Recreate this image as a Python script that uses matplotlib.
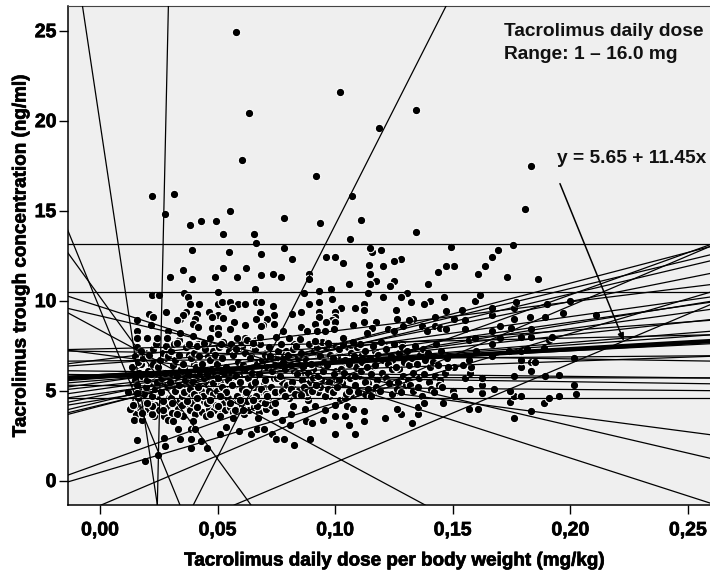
import matplotlib
matplotlib.use("Agg")
import matplotlib.pyplot as plt
import matplotlib.patheffects as pe

plt.rcParams['font.family'] = ['Liberation Sans', 'DejaVu Sans']

# isolated high values and the points above the 10 line
high_dose = [.0578, .102, .0635, .0602, .0917, .0221, .0313, .107, .0275, .0554, .0384, .0431, .0492, .0784, .0937,
             .0524, .0655, .0662, .1062, .0391, .0547, .0784, .0686, .0815, .0962, .1, .1034, .0352, .0522, .0619,
             .0299, .0392, .0488, .0582, .0686, .0736, .077, .089, .089, .106, .0658, .0981, .0932, .1342, .1185,
             .1831, .1808, .1111, .1345, .1491, .1757, .1692, .1665, .1637, .1607, .1732, .1861, .1504, .147, .1439,
             .1395, .1278, .1249, .1203, .1143, .1193, .1158, .1148, .1148, .1172, .125, .1148, .1233]
high_trough = [24.9, 21.6, 20.4, 17.8, 16.9, 15.8, 15.9, 15.8, 14.8, 15.0, 14.2, 14.4, 14.4, 14.6, 14.3,
               13.7, 13.7, 13.2, 13.4, 12.8, 12.7, 12.9, 12.6, 12.3, 12.4, 12.4, 12.1, 11.7, 11.8, 11.8,
               11.3, 11.2, 11.3, 11.3, 11.4, 11.5, 11.3, 11.5, 11.2, 10.9, 10.65, 10.65, 10.55, 20.6, 19.6,
               17.5, 15.1, 14.5, 13.8, 13.0, 13.1, 12.8, 12.4, 11.9, 11.5, 11.3, 11.2, 11.9, 11.9, 11.6,
               10.9, 12.3, 12.2, 11.9, 12.0, 12.8, 12.7, 12.9, 11.5, 11.1, 11.1, 10.9, 10.8]

# points under the band, left half
low_dose = [.0145, .0179, .0159, .0272, .0278, .0193, .0247, .034, .0386, .0386, .0431, .0454, .0333, .0397, .0386,
            .0404, .051, .0536, .059, .0642, .0666, .0698, .073, .0748, .0784, .0824, .0894, .0999, .1084, .1059,
            .0672, .0744, .0772, .0812, .0808, .0876, .0901, .0947, .0999, .1043,
            .0128, .0149, .0177, .0223, .022, .0269, .0305, .0326, .0291, .0312, .0347, .0411, .0454, .0468, .0503,
            .051, .0567, .0574, .0609, .0666, .0702, .0744, .0787, .0822, .0872, .0914, .0957, .0999, .1049, .1077,
            .0857, .0269, .0305, .037, .0411, .0468, .051, .0553, .0595, .0652, .0709, .0198, .0142, .0156, .012]
low_trough = [3.39, 3.39, 2.25, 2.38, 1.9, 1.1, 1.4, 2.29, 2.29, 1.79, 2.2, 1.79, 2.88, 3.3, 2.88,
              2.88, 2.6, 3.0, 2.73, 2.6, 2.88, 2.88, 2.6, 2.29, 2.29, 2.0, 2.29, 2.6, 2.6, 3.09,
              3.5, 3.8, 3.39, 3.7, 3.09, 3.3, 3.2, 3.39, 3.6, 3.6,
              4.0, 4.19, 3.76, 3.7, 4.13, 3.94, 3.76, 3.67, 3.39, 3.29, 4.22, 4.07, 4.31, 3.7, 4.13,
              3.57, 3.48, 3.94, 3.94, 4.13, 4.31, 4.31, 4.69, 4.13, 4.0, 4.13, 3.94, 4.19, 4.13, 4.0,
              4.78, 4.41, 4.31, 4.41, 4.59, 4.5, 4.69, 4.31, 4.5, 4.5, 4.69, 4.31, 4.22, 4.87, 4.93]

# right half of the cloud
right_dose = [.1124, .1212, .128, .1328, .1351, .1353, .1378, .1458, .1261, .1124, .1568, .1608, .176, .1831, .1888,
              .1908, .1954, .2023, .2014, .1743, .176, .179, .1743, .1676, .1623, .1623, .1623, .1572, .15, .1504,
              .1456, .1552, .176, .1893, .1954, .1831, .179, .179, .1831, .185, .2014, .1573, .1577, .1542, .1507,
              .1478, .157, .1665, .1601, .174, .179, .1814, .1888, .1665, .157, .1594, .17, .179, .1831, .1908,
              .1923, .1831, .1665, .1552, .1747, .17, .1828, .1892, .197, .2109, .176, .1665, .1552, .1504, .147,
              .1538, .1423, .1665, .176, .1769, .1899, .1998, .1594, .1616, .1464, .1403, .1378, .1322, .1304, .1278,
              .1205, .1141, .1257, .1124, .1124, .1124, .1172, .1155, .1261, .129, .1332, .1314, .1368, .1391, .1424,
              .1446, .147, .1226, .125, .1134]
right_trough = [3.3, 3.5, 3.7, 3.2, 3.7, 4.09, 4.3, 4.3, 4.0, 3.89, 4.0, 4.0, 3.5, 3.89, 4.3,
                4.6, 4.69, 4.8, 5.3, 4.39, 4.69, 4.69, 5.0, 5.1, 4.89, 5.3, 5.7, 5.1, 5.0, 4.69,
                5.2, 5.7, 5.8, 5.8, 5.89, 6.09, 6.3, 6.7, 6.6, 6.6, 6.8, 6.0, 6.3, 6.4, 6.3,
                6.3, 6.7, 6.9, 7.19, 7.19, 7.19, 7.3, 7.38, 7.6, 7.8, 7.9, 7.9, 8.0, 8.0, 7.8,
                8.0, 8.4, 8.3, 8.4, 8.5, 8.6, 9.1, 9.1, 9.3, 9.2, 9.0, 9.2, 8.9, 9.0, 9.4,
                9.5, 9.1, 9.6, 9.6, 9.94, 9.8, 10.0, 10.0, 10.3, 10.2, 10.0, 9.8, 9.9, 10.4, 10.2,
                10.2, 10.4, 9.5, 9.8, 9.45, 8.79, 8.8, 8.5, 9.0, 8.6, 9.0, 8.9, 8.6, 8.3, 8.6,
                8.5, 8.4, 8.4, 8.3, 8.2]

# upper left part of the cloud, between 7.7 and 10.6
upper_dose = [.0223, .0249, .0357, .0376, .0503, .0659, .0867, .0933, .0981, .0986, .0933, .0889, .0385, .042, .0503,
              .0517, .0553, .0588, .0616, .0662, .0685, .0736, .1025, .1084, .0857, .0815, .0933, .1, .0279, .0364,
              .0411, .0465, .0503, .0563, .068, .074, .0208, .0224, .034, .0354, .0404, .0475, .0524, .0662, .0709,
              .0933, .1, .0985, .0156, .0326, .0397, .0418, .0571, .0616, .0694, .0741, .0857, .0914, .0962, .1,
              .1077, .0215, .0156, .0291, .034, .0475, .0503, .0503, .0553, .0685, .0616, .078, .0879, .0921, .0957,
              .0996, .1039, .0156, .0198, .0241, .0283, .0326, .0397, .0442, .0468, .0584, .0624, .0652, .068, .0748,
              .0805, .085, .0914, .0971, .1035, .1077]
upper_trough = [10.3, 10.3, 10.4, 10.2, 10.5, 10.57, 10.4, 10.5, 10.57, 10.1, 9.9, 9.79, 9.79, 9.79, 9.79,
                9.9, 9.9, 9.79, 9.79, 9.9, 9.9, 9.7, 9.6, 9.6, 9.38, 9.27, 9.38, 9.38, 9.38, 9.38,
                9.27, 9.38, 9.2, 9.57, 9.38, 9.2, 9.27, 9.1, 9.0, 9.2, 9.0, 9.08, 9.05, 9.0, 9.0,
                9.1, 9.1, 8.9, 8.9, 8.92, 8.7, 8.53, 8.8, 8.62, 8.62, 8.7, 8.53, 8.7, 8.8, 8.8,
                8.64, 8.62, 8.3, 8.3, 8.2, 8.49, 8.49, 8.12, 8.4, 8.58, 7.93, 8.3, 8.3, 8.3, 8.3,
                8.4, 7.93, 7.93, 7.9, 7.93, 7.93, 7.66, 8.02, 7.66, 7.9, 7.93, 7.79, 7.66, 7.97,
                7.97, 7.93, 7.84, 7.75, 7.66, 7.93, 7.7]

# dense band, individual points are hidden here so these are rough readings
band_dose = [.0143, .0151, .0138, .0147, .0156, .0162, .0158, .0168, .0163, .0179, .0184, .0176, .0188, .0197, .0203,
             .0208, .0199, .0221, .0218, .0227, .0224, .0236, .0241, .0247, .0238, .0258, .0263, .0254, .0269, .0283,
             .0277, .0288, .0279, .0304, .0296, .0311, .0302, .0317, .0326, .0321, .0313, .0338, .0344, .0336, .0347,
             .0362, .0355, .0367, .0358, .0381, .0376, .0387, .0379, .0402, .0396, .0408, .0399, .0418, .0427, .0421,
             .0413, .0439, .0444, .0436, .0447, .0463, .0456, .0468, .0459, .0482, .0477, .0488, .0479, .0501, .0496,
             .0507, .0499, .0518, .0526, .0521, .0513, .0538, .0544, .0536, .0547, .0562, .0556, .0567, .0559, .0583,
             .0577, .0588, .0579, .0603, .0597, .0608, .0599, .0622, .0628, .0619, .0616, .0641, .0647, .0638, .0649,
             .0664, .0658, .0669, .0661, .0684, .0678, .0689, .0681, .0706, .0701, .0712, .0703, .0727, .0733, .0724,
             .0718, .0746, .0752, .0743, .0756, .0772, .0766, .0778, .0769, .0794, .0788, .0799, .0791, .0816, .0811,
             .0822, .0813, .0838, .0844, .0835, .0829, .0858, .0864, .0855, .0868, .0883, .0877, .0889, .0881, .0906,
             .0899, .0912, .0903, .0928, .0934, .0925, .0919, .0948, .0954, .0945, .0958, .0973, .0967, .0979, .0971,
             .0996, .0989, .1002, .0993, .1018, .1024, .1015, .1009, .1038, .1044, .1035, .1048, .1063, .1057, .1069,
             .1061, .1086, .1079, .1092, .1083, .1108, .1114, .1105, .1099, .1128, .1134, .1125, .1138, .1153, .1147,
             .1159, .1151, .1176, .1169, .1182, .1173, .1198, .1204, .1195, .1189, .1218, .1224, .1215, .1228, .1243,
             .1237, .1249, .1241, .1266, .1259, .1272, .1263, .1288, .1294, .1285, .1279, .1308, .1314, .1305, .1318,
             .1333, .1327, .1339, .1331, .1356, .1349, .1362, .1353, .1378, .1384, .1375, .1369, .1398, .1404, .1395,
             .1408, .1423, .1417, .1429, .1421, .1446, .1439, .1452, .1443, .1468, .1474]
band_trough = [5.0, 5.6, 6.3, 6.9, 7.4, 4.6, 5.3, 6.0, 6.6, 5.8, 6.8, 7.2, 4.8, 5.2, 6.1,
               7.0, 5.6, 4.7, 5.9, 6.5, 7.3, 5.1, 5.5, 6.3, 7.6, 4.9, 5.7, 6.7, 7.1, 5.3,
               6.0, 6.9, 7.5, 4.6, 5.5, 6.4, 7.2, 5.0, 5.8, 6.7, 7.6, 5.3, 6.2, 7.0, 4.7,
               5.6, 6.5, 7.4, 4.9, 5.1, 5.9, 6.8, 7.6, 4.8, 5.5, 6.3, 7.1, 5.2, 6.0, 6.9,
               7.5, 4.7, 5.7, 6.5, 7.3, 5.0, 5.9, 6.7, 7.7, 5.4, 6.2, 7.0, 4.8, 5.7, 6.5,
               7.4, 5.0, 5.2, 6.0, 6.8, 7.6, 4.9, 5.6, 6.3, 7.2, 5.3, 6.1, 7.0, 7.6, 4.7,
               5.8, 6.6, 7.3, 5.1, 5.5, 6.4, 7.7, 4.9, 5.7, 6.2, 7.1, 5.3, 6.0, 6.8, 7.5,
               4.7, 5.5, 6.5, 7.3, 5.1, 5.9, 6.7, 7.6, 4.8, 5.6, 6.3, 7.0, 5.2, 6.1, 6.9,
               7.4, 4.9, 5.7, 6.4, 7.2, 5.0, 5.8, 6.6, 7.6, 5.3, 6.2, 7.0, 4.7, 5.5, 6.4,
               7.3, 5.1, 5.9, 6.8, 7.5, 4.8, 5.6, 6.3, 7.1, 5.2, 6.0, 6.7, 7.6, 4.9, 5.7,
               6.5, 7.2, 5.0, 5.8, 6.9, 7.4, 5.3, 6.1, 6.6, 7.7, 4.7, 5.5, 6.4, 7.0, 5.1,
               5.9, 6.8, 7.5, 4.9, 5.6, 6.2, 7.3, 5.2, 6.0, 6.7, 7.6, 4.8, 5.7, 6.5, 7.1,
               5.0, 5.8, 6.9, 7.4, 5.3, 6.1, 6.6, 7.6, 4.9, 5.5, 6.3, 7.2, 5.1, 5.9, 6.8,
               7.5, 4.7, 5.6, 6.4, 7.0, 5.2, 6.0, 6.7, 7.7, 5.0, 5.7, 6.5, 7.3, 5.4, 6.2,
               6.9, 7.6, 4.8, 5.5, 6.3, 7.1, 5.1, 5.8, 6.6, 7.4, 4.9, 5.6, 6.4, 7.2, 5.3,
               6.0, 6.8, 7.5, 5.0, 5.7, 6.5, 7.0, 5.2, 5.9, 6.7, 7.3, 4.7, 5.5, 6.3, 7.1,
               5.1, 5.8, 6.6, 7.6, 4.9, 5.6, 6.4, 7.2, 5.3, 6.0, 6.8]

# more of the crowded left side, also rough
crowd_dose = [.0139, .0148, .0155, .0166, .0172, .0186, .0193, .0205, .0212, .0229, .0233, .0244, .0252, .0267, .0273,
              .0285, .0292, .0306, .0315, .0324, .0331, .0342, .0353, .0365, .0372, .0384, .0393, .0405, .0411, .0424,
              .0433, .0442, .0451, .0465, .0473, .0486, .0494, .0505, .0516, .0528, .0533, .0545, .0554, .0565, .0574,
              .0586, .0595, .0606, .0612, .0625, .0634, .0645, .0653, .0667, .0675, .0686, .0694, .0708, .0716, .0729,
              .0141, .0153, .0164, .0174, .0182, .0191, .0207, .0216, .0226, .0234, .0243, .0256, .0264, .0275, .0287,
              .0294, .0308, .0319, .0328, .0335, .0349, .0357, .0369, .0377, .0389, .0398, .0409, .0416, .0429, .0437,
              .0449, .0458, .0471, .0481, .0491, .0503, .0511, .0524, .0531, .0543, .0552, .0564, .0571, .0582, .0593,
              .0605, .0614, .0626, .0636, .0643, .0655, .0663, .0677, .0688, .0697, .0705, .0719, .0731, .0741, .0749,
              .0761, .0773, .0785, .0793, .0805, .0817, .0826, .0837, .0848, .0859, .0871, .0885, .0894, .0907, .0917,
              .0929, .0941, .0952, .0963, .0975, .0986, .0997, .1008, .1021, .1033, .1042, .1055, .1067, .1078, .1089,
              .0765, .0781, .0796, .0809, .0824, .0841, .0853, .0866, .0879, .0892, .0908, .0923, .0936, .0949, .0961,
              .0977, .0991, .1004, .1017, .1029, .1041, .1058, .1071, .1084, .1097, .1112, .1127, .1141, .1156, .1168,
              .1183, .1197, .1212, .1226, .1241, .1256, .1271, .1286, .1302, .1317]
crowd_trough = [3.9, 4.4, 3.7, 4.1, 4.6, 3.8, 4.3, 4.0, 4.5, 3.6, 4.2, 4.7, 3.9, 4.3, 3.6,
                4.1, 4.6, 3.8, 4.4, 3.7, 4.0, 4.5, 3.6, 4.2, 4.7, 3.9, 4.3, 3.7, 4.1, 4.6,
                3.8, 4.4, 3.6, 4.0, 4.5, 3.9, 4.2, 4.7, 3.7, 4.3, 3.9, 4.6, 4.1, 3.8, 4.5,
                4.0, 4.7, 4.2, 3.7, 4.4, 3.9, 4.6, 4.1, 4.8, 3.8, 4.3, 4.9, 4.0, 4.6, 4.2,
                5.4, 6.2, 5.1, 6.5, 5.7, 7.1, 5.3, 6.4, 5.8, 7.5, 5.0, 6.1, 5.5, 6.8, 5.2,
                7.3, 5.9, 6.6, 5.4, 7.8, 5.1, 6.3, 5.7, 7.0, 5.3, 6.5, 5.8, 7.6, 5.0, 6.2,
                5.5, 6.9, 5.2, 7.2, 5.9, 6.4, 5.4, 7.7, 5.1, 6.1, 5.6, 7.0, 5.3, 6.6, 5.8,
                7.4, 5.0, 6.2, 5.5, 6.9, 5.2, 7.8, 5.9, 6.4, 5.4, 7.1, 5.1, 6.3, 5.7, 6.8,
                4.9, 5.5, 6.4, 7.2, 4.6, 5.2, 6.1, 7.5, 4.8, 5.8, 6.7, 4.5, 5.4, 6.2, 7.3,
                4.9, 5.6, 6.5, 7.7, 4.7, 5.3, 6.0, 6.9, 4.5, 5.7, 6.6, 7.4, 4.8, 5.1, 6.3,
                6.0, 7.0, 5.3, 6.4, 7.6, 5.0, 5.9, 6.8, 4.7, 5.5, 6.2, 7.1, 5.2, 6.5, 7.4,
                4.9, 5.7, 6.1, 7.2, 5.4, 4.6, 6.6, 7.5, 5.1, 5.8, 6.9, 4.8, 5.4, 6.3, 7.2,
                5.0, 6.0, 7.4, 5.5, 6.7, 4.9, 6.2, 7.6, 5.3, 6.5]

# per patient regression lines
fit_intercepts = [4.14, 4.19, 4.37, 4.48, 4.71, 4.84, 5.08, 5.26, 5.45, 5.57, 5.68, 6.71, 6.49, 6.65, 7.17, 6.08, 5.87,
                  5.28, 5.75, 5.71, 5.89, 7.32, 13.12, 10.45, 4.57,
                  19.9, -145.3, -11.6, 9.53, 10.2, 9.67, 9.15, 7.01, 8.36, .94, .45, -1.39, -4.5]
fit_slopes = [34.15, 30.9, 31.5, 21.1, 26.2, 18.0, 18.6, 14.2, 18.3, 10.5, 9.3, 16.1, 9.3, 1.1, -2.05, -1.46, -1.9,
              -1.1, -.2, 4.6, 6.6, 3.0, 0, 0, 0,
              -871, 5900, 258, -320, -180, -42.1, -30.5, -17.2, -70.3, 46.9, 38.6, 55.5, 55]
mean_intercept = 5.8
mean_slope = 7.5

x_ticks = [0, .05, .10, .15, .20, .25]
x_tick_labels = ["0,00", "0,05", "0,10", "0,15", "0,20", "0,25"]
y_ticks = [0, 5, 10, 15, 20, 25]

fig = plt.figure(figsize=(7.1, 5.76), dpi=100)
ax = fig.add_axes([67.5 / 710, 71 / 576, 642.5 / 710, 499.5 / 576])
ax.set_facecolor("#efefef")
ax.set_xlim(-.0138, .2594)
ax.set_ylim(-1.36, 26.4)

for d, t in [(crowd_dose, crowd_trough), (band_dose, band_trough), (low_dose, low_trough), (right_dose, right_trough),
             (upper_dose, upper_trough), (high_dose, high_trough)]:
    ax.scatter(d, t, s=37, c="black", edgecolors="white", linewidths=.8, zorder=2)

for b, m in zip(fit_intercepts, fit_slopes):
    ax.axline((0, b), slope=m, color="black", lw=.9, zorder=3)
ax.axline((0, mean_intercept), slope=mean_slope, color="black", lw=3.2, zorder=3)

ax.annotate("", xy=(.2228, 7.75), xytext=(.1956, 16.5), zorder=4,
            arrowprops=dict(arrowstyle="-|>,head_width=0.18,head_length=0.45", color="black", lw=1.1,
                            shrinkA=0, shrinkB=0))
ax.text(.1716, 24.97, "Tacrolimus daily dose", fontsize=13.8, fontweight="bold", color="#111111", va="center")
ax.text(.1716, 23.7, "Range: 1 \u2013 16.0 mg", fontsize=13.8, fontweight="bold", color="#111111", va="center")
ax.text(.1942, 17.9, "y = 5.65 + 11.45x", fontsize=13.8, fontweight="bold", color="#111111", va="center")

ax.set_xticks(x_ticks)
ax.set_xticklabels(x_tick_labels)
ax.set_yticks(y_ticks)
ax.tick_params(length=6.5, width=1, labelsize=14, pad=1.5)
ax.tick_params(axis="x", pad=6)
heavy = [pe.withStroke(linewidth=.5, foreground="black")]
for lab in ax.get_xticklabels() + ax.get_yticklabels():
    lab.set_fontweight("bold")
    lab.set_path_effects(heavy)
ax.spines["right"].set_visible(False)
ax.spines["top"].set_color("#444444")
for s in ["left", "bottom"]:
    ax.spines[s].set_linewidth(1.1)

fig.text(394.5 / 710, 1 - 561 / 576, "Tacrolimus daily dose per body weight (mg/kg)", fontsize=13.6, fontweight="bold",
         ha="center", va="center", path_effects=heavy)
fig.text(21 / 710, 1 - 256 / 576, "Tacrolimus trough concentration (ng/ml)", fontsize=13.6, fontweight="bold",
         rotation=90, ha="center", va="center", path_effects=heavy)

fig.savefig("out.png", dpi=100)
